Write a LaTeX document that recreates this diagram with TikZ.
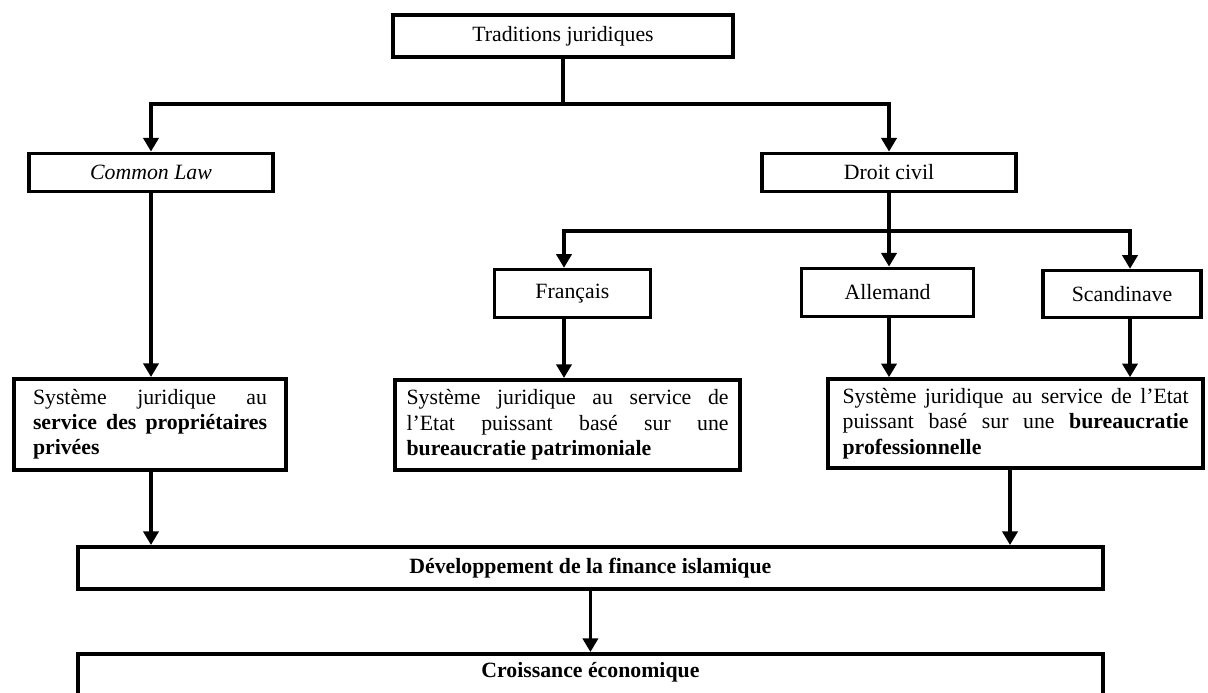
\documentclass[tikz,border=0pt]{standalone}
\usepackage{fontspec}
\setmainfont{Liberation Serif}
\usetikzlibrary{arrows.meta}

\begin{document}
\begin{tikzpicture}
	\tikzstyle{box} = [draw, line width=2.6pt, inner sep=0pt, align=center, font=\fontsize{15.5}{18}\selectfont]
	\tikzstyle{textbox} = [box, align=justify]
	\tikzset{edge/.style = {line width=2.2pt, -{Triangle[width=0.38cm,length=0.34cm]}}}
	\tikzset{stem/.style = {line width=2.2pt}}

	\useasboundingbox (0,0) rectangle (30.2,-17.325);

	\node[box, minimum width=8.5cm, minimum height=1.05cm](traditions) at (14.075,-0.9) {Traditions juridiques};
	\node[box, minimum width=6.1cm, minimum height=0.95cm](commonlaw) at (3.775,-4.31) {\textit{Common Law}};
	\node[box, minimum width=6.35cm, minimum height=0.95cm](droitcivil) at (22.225,-4.31) {Droit civil};

	\node[box, minimum width=3.9cm, minimum height=1.2cm](francais) at (14.31,-7.34) {Français};
	\node[box, minimum width=4.3cm, minimum height=1.2cm](allemand) at (22.19,-7.31) {Allemand};
	\node[box, minimum width=3.95cm, minimum height=1.17cm](scandinave) at (28.05,-7.35) {Scandinave};

	\node[textbox, text width=5.85cm, minimum width=6.8cm, minimum height=2.28cm](sys1) at (3.75,-10.61)
		{Système juridique au\linebreak \textbf{service des propriétaires privées}};
	\node[textbox, text width=8.05cm, minimum width=8.63cm, minimum height=2.26cm](sys2) at (14.19,-10.625)
		{Système juridique au service de\linebreak l’Etat puissant basé sur une\linebreak \textbf{bureaucratie patrimoniale}};
	\node[textbox, text width=8.65cm, minimum width=9.38cm, minimum height=2.23cm](sys3) at (25.39,-10.59)
		{Système juridique au service de l’Etat\linebreak puissant basé sur une \textbf{bureaucratie}\linebreak \textbf{professionnelle}};

	\node[box, minimum width=25.63cm, minimum height=1.06cm](dev) at (14.76,-14.2) {\textbf{Développement de la finance islamique}};
	\node[box, anchor=north, minimum width=25.63cm, inner ysep=0.22cm, text depth=1.5cm](croissance) at (14.76,-16.3) {\textbf{Croissance économique}};

	% first level
	\coordinate (split1) at (3.775,-2.6);
	\coordinate (split2) at (22.225,-2.6);
	\draw[stem](traditions) to (traditions |- split1);
	\draw[edge](split2) -- (split1) -- (commonlaw);
	\draw[edge](split1) -- (split2) -- (droitcivil);

	% droit civil branches
	\coordinate (split3) at (14.1,-5.775);
	\coordinate (split4) at (28.25,-5.775);
	\draw[edge](droitcivil.south) -- (droitcivil.south |- allemand.north);
	\draw[edge](split4) -- (split3) -- (split3 |- francais.north);
	\draw[edge](split3) -- (split4) -- (split4 |- scandinave.north);

	\draw[edge](commonlaw) -- (commonlaw |- sys1.north);
	\draw[edge](split3 |- francais.south) -- (split3 |- sys2.north);
	\draw[edge](droitcivil.south |- allemand.south) -- (droitcivil.south |- sys3.north);
	\draw[edge](split4 |- scandinave.south) -- (split4 |- sys3.north);

	% towards the bottom
	\coordinate (sys3out) at (25.25,-11.75);
	\draw[edge](commonlaw |- sys1.south) -- (commonlaw |- dev.north);
	\draw[edge](sys3out |- sys3.south) -- (sys3out |- dev.north);
	\draw[edge](dev) -- (croissance);
\end{tikzpicture}
\end{document}
